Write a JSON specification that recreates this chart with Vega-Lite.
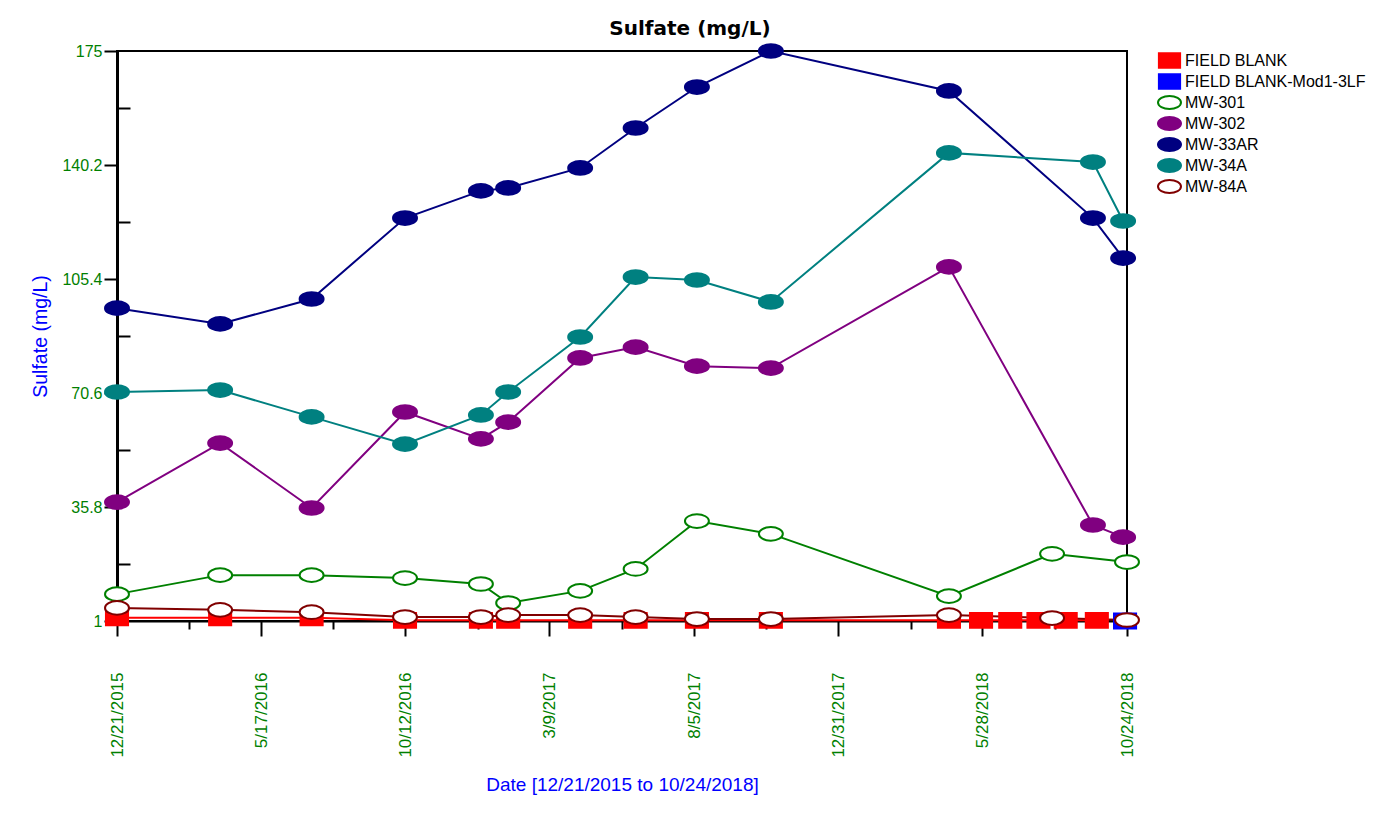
{
  "$schema": "https://vega.github.io/schema/vega-lite/v6.json",
  "autosize": {"type": "none"},
  "padding": {"left": 117, "top": 51, "right": 249, "bottom": 193},
  "width": 1010,
  "height": 570,
  "background": "white",
  "title": {
    "text": "Sulfate (mg/L)",
    "font": "DejaVu Sans",
    "fontSize": 20,
    "fontWeight": "bold",
    "color": "black",
    "anchor": "middle",
    "frame": "group",
    "dx": 68,
    "offset": 1
  },
  "data": {
    "values": [
      {"well": "FIELD BLANK", "date": "2015-12-21T00:00:00", "sulfate": 2.0},
      {"well": "FIELD BLANK", "date": "2016-04-05T00:00:00", "sulfate": 2.0},
      {"well": "FIELD BLANK", "date": "2016-07-08T00:00:00", "sulfate": 2.0},
      {"well": "FIELD BLANK", "date": "2016-10-12T00:00:00", "sulfate": 1.2},
      {"well": "FIELD BLANK", "date": "2016-12-29T00:00:00", "sulfate": 1.2},
      {"well": "FIELD BLANK", "date": "2017-01-26T00:00:00", "sulfate": 1.2},
      {"well": "FIELD BLANK", "date": "2017-04-10T00:00:00", "sulfate": 1.2},
      {"well": "FIELD BLANK", "date": "2017-06-06T00:00:00", "sulfate": 1.2},
      {"well": "FIELD BLANK", "date": "2017-08-08T00:00:00", "sulfate": 1.2},
      {"well": "FIELD BLANK", "date": "2017-10-23T00:00:00", "sulfate": 1.2},
      {"well": "FIELD BLANK", "date": "2018-04-24T00:00:00", "sulfate": 1.2},
      {"well": "FIELD BLANK", "date": "2018-05-27T00:00:00", "sulfate": 1.2},
      {"well": "FIELD BLANK", "date": "2018-06-26T00:00:00", "sulfate": 1.2},
      {"well": "FIELD BLANK", "date": "2018-07-25T00:00:00", "sulfate": 1.2},
      {"well": "FIELD BLANK", "date": "2018-08-22T00:00:00", "sulfate": 1.2},
      {"well": "FIELD BLANK", "date": "2018-09-23T00:00:00", "sulfate": 1.2},
      {"well": "FIELD BLANK-Mod1-3LF", "date": "2018-10-22T00:00:00", "sulfate": 1.0},
      {"well": "MW-301", "date": "2015-12-21T00:00:00", "sulfate": 9.2},
      {"well": "MW-301", "date": "2016-04-05T00:00:00", "sulfate": 15.0},
      {"well": "MW-301", "date": "2016-07-08T00:00:00", "sulfate": 15.0},
      {"well": "MW-301", "date": "2016-10-12T00:00:00", "sulfate": 14.1},
      {"well": "MW-301", "date": "2016-12-29T00:00:00", "sulfate": 12.3},
      {"well": "MW-301", "date": "2017-01-26T00:00:00", "sulfate": 6.5},
      {"well": "MW-301", "date": "2017-04-10T00:00:00", "sulfate": 10.2},
      {"well": "MW-301", "date": "2017-06-06T00:00:00", "sulfate": 16.9},
      {"well": "MW-301", "date": "2017-08-08T00:00:00", "sulfate": 31.5},
      {"well": "MW-301", "date": "2017-10-23T00:00:00", "sulfate": 27.6},
      {"well": "MW-301", "date": "2018-04-24T00:00:00", "sulfate": 8.6},
      {"well": "MW-301", "date": "2018-08-08T00:00:00", "sulfate": 21.5},
      {"well": "MW-301", "date": "2018-10-24T00:00:00", "sulfate": 19.0},
      {"well": "MW-302", "date": "2015-12-21T00:00:00", "sulfate": 37.3},
      {"well": "MW-302", "date": "2016-04-05T00:00:00", "sulfate": 55.3},
      {"well": "MW-302", "date": "2016-07-08T00:00:00", "sulfate": 35.5},
      {"well": "MW-302", "date": "2016-10-12T00:00:00", "sulfate": 64.8},
      {"well": "MW-302", "date": "2016-12-29T00:00:00", "sulfate": 56.6},
      {"well": "MW-302", "date": "2017-01-26T00:00:00", "sulfate": 61.7},
      {"well": "MW-302", "date": "2017-04-10T00:00:00", "sulfate": 81.3},
      {"well": "MW-302", "date": "2017-06-06T00:00:00", "sulfate": 84.6},
      {"well": "MW-302", "date": "2017-08-08T00:00:00", "sulfate": 78.8},
      {"well": "MW-302", "date": "2017-10-23T00:00:00", "sulfate": 78.2},
      {"well": "MW-302", "date": "2018-04-24T00:00:00", "sulfate": 109.1},
      {"well": "MW-302", "date": "2018-09-19T00:00:00", "sulfate": 30.3},
      {"well": "MW-302", "date": "2018-10-20T00:00:00", "sulfate": 26.6},
      {"well": "MW-33AR", "date": "2015-12-21T00:00:00", "sulfate": 96.5},
      {"well": "MW-33AR", "date": "2016-04-05T00:00:00", "sulfate": 91.7},
      {"well": "MW-33AR", "date": "2016-07-08T00:00:00", "sulfate": 99.3},
      {"well": "MW-33AR", "date": "2016-10-12T00:00:00", "sulfate": 124.0},
      {"well": "MW-33AR", "date": "2016-12-29T00:00:00", "sulfate": 132.3},
      {"well": "MW-33AR", "date": "2017-01-26T00:00:00", "sulfate": 133.2},
      {"well": "MW-33AR", "date": "2017-04-10T00:00:00", "sulfate": 139.3},
      {"well": "MW-33AR", "date": "2017-06-06T00:00:00", "sulfate": 151.5},
      {"well": "MW-33AR", "date": "2017-08-08T00:00:00", "sulfate": 164.0},
      {"well": "MW-33AR", "date": "2017-10-23T00:00:00", "sulfate": 175.0},
      {"well": "MW-33AR", "date": "2018-04-24T00:00:00", "sulfate": 162.8},
      {"well": "MW-33AR", "date": "2018-09-19T00:00:00", "sulfate": 124.0},
      {"well": "MW-33AR", "date": "2018-10-20T00:00:00", "sulfate": 111.8},
      {"well": "MW-34A", "date": "2015-12-21T00:00:00", "sulfate": 70.9},
      {"well": "MW-34A", "date": "2016-04-05T00:00:00", "sulfate": 71.5},
      {"well": "MW-34A", "date": "2016-07-08T00:00:00", "sulfate": 63.3},
      {"well": "MW-34A", "date": "2016-10-12T00:00:00", "sulfate": 55.0},
      {"well": "MW-34A", "date": "2016-12-29T00:00:00", "sulfate": 63.9},
      {"well": "MW-34A", "date": "2017-01-26T00:00:00", "sulfate": 70.9},
      {"well": "MW-34A", "date": "2017-04-10T00:00:00", "sulfate": 87.7},
      {"well": "MW-34A", "date": "2017-06-06T00:00:00", "sulfate": 106.0},
      {"well": "MW-34A", "date": "2017-08-08T00:00:00", "sulfate": 105.1},
      {"well": "MW-34A", "date": "2017-10-23T00:00:00", "sulfate": 98.4},
      {"well": "MW-34A", "date": "2018-04-24T00:00:00", "sulfate": 143.9},
      {"well": "MW-34A", "date": "2018-09-19T00:00:00", "sulfate": 141.1},
      {"well": "MW-34A", "date": "2018-10-20T00:00:00", "sulfate": 123.1},
      {"well": "MW-84A", "date": "2015-12-21T00:00:00", "sulfate": 5.0},
      {"well": "MW-84A", "date": "2016-04-05T00:00:00", "sulfate": 4.4},
      {"well": "MW-84A", "date": "2016-07-08T00:00:00", "sulfate": 3.7},
      {"well": "MW-84A", "date": "2016-10-12T00:00:00", "sulfate": 2.2},
      {"well": "MW-84A", "date": "2016-12-29T00:00:00", "sulfate": 2.2},
      {"well": "MW-84A", "date": "2017-01-26T00:00:00", "sulfate": 2.8},
      {"well": "MW-84A", "date": "2017-04-10T00:00:00", "sulfate": 2.8},
      {"well": "MW-84A", "date": "2017-06-06T00:00:00", "sulfate": 2.2},
      {"well": "MW-84A", "date": "2017-08-08T00:00:00", "sulfate": 1.6},
      {"well": "MW-84A", "date": "2017-10-23T00:00:00", "sulfate": 1.6},
      {"well": "MW-84A", "date": "2018-04-24T00:00:00", "sulfate": 2.8},
      {"well": "MW-84A", "date": "2018-08-08T00:00:00", "sulfate": 1.9},
      {"well": "MW-84A", "date": "2018-10-24T00:00:00", "sulfate": 1.3}
    ]
  },
  "encoding": {
    "x": {
      "field": "date",
      "type": "temporal",
      "title": "Date [12/21/2015 to 10/24/2018]",
      "scale": {"domain": [{"year": 2015, "month": 12, "date": 21}, {"year": 2018, "month": 10, "date": 24}]},
      "axis": {
        "values": [
          {"year": 2015, "month": 12, "date": 21},
          {"year": 2016, "month": 3, "date": 4},
          {"year": 2016, "month": 5, "date": 17},
          {"year": 2016, "month": 7, "date": 30},
          {"year": 2016, "month": 10, "date": 12},
          {"year": 2016, "month": 12, "date": 26},
          {"year": 2017, "month": 3, "date": 9},
          {"year": 2017, "month": 5, "date": 23},
          {"year": 2017, "month": 8, "date": 5},
          {"year": 2017, "month": 10, "date": 18},
          {"year": 2017, "month": 12, "date": 31},
          {"year": 2018, "month": 3, "date": 16},
          {"year": 2018, "month": 5, "date": 28},
          {"year": 2018, "month": 8, "date": 11},
          {"year": 2018, "month": 10, "date": 24}
        ],
        "format": "%-m/%-d/%Y",
        "labelExpr": "indexof([4, 30, 26, 23, 18, 16, 11], date(datum.value)) >= 0 ? '' : datum.label",
        "labelAngle": 270,
        "labelAlign": "right",
        "labelBaseline": "middle",
        "labelPadding": 36,
        "labelFont": "Liberation Sans",
        "labelFontSize": 17,
        "labelColor": "#008000",
        "labelFlush": false,
        "labelOverlap": false,
        "tickSize": {"condition": {"test": "indexof([4, 30, 26, 23, 18, 16, 11], date(datum.value)) >= 0", "value": 8}, "value": 15},
        "tickColor": "black",
        "tickWidth": 2,
        "domainColor": "black",
        "domainWidth": 2,
        "grid": false,
        "titleFont": "Liberation Sans",
        "titleFontSize": 19,
        "titleFontWeight": "normal",
        "titleColor": "#0000ff",
        "titlePadding": 18
      }
    },
    "y": {
      "field": "sulfate",
      "type": "quantitative",
      "title": "Sulfate (mg/L)",
      "scale": {"domain": [1, 175], "nice": false, "zero": false},
      "axis": {
        "values": [1, 18.4, 35.8, 53.2, 70.6, 88, 105.4, 122.8, 140.2, 157.6, 175],
        "format": ".1~f",
        "labelExpr": "round((datum.value - 1) * 10) % 348 == 0 ? datum.label : ''",
        "tickSize": {"condition": {"test": "round((datum.value - 1) * 10) % 348 != 0", "value": -13}, "value": 13},
        "labelPadding": 2,
        "labelFont": "Liberation Sans",
        "labelFontSize": 16,
        "labelColor": "#008000",
        "labelOverlap": false,
        "labelFlush": false,
        "tickColor": "black",
        "tickWidth": 2,
        "domainColor": "black",
        "domainWidth": 3,
        "grid": false,
        "titleFont": "Liberation Sans",
        "titleFontSize": 19.5,
        "titleFontWeight": "normal",
        "titleColor": "#0000ff",
        "titlePadding": 11
      }
    }
  },
  "layer": [
    {
      "mark": {"type": "line", "strokeWidth": 2},
      "encoding": {
        "color": {
          "field": "well",
          "type": "nominal",
          "legend": null,
          "scale": {
            "range": ["#ff0000", "#0000ff", "#008000", "#800080", "#000080", "#008080", "#800000"]
          }
        }
      }
    },
    {
      "mark": {"type": "point", "size": 293, "strokeWidth": 2, "opacity": 1, "fillOpacity": 1},
      "encoding": {
        "stroke": {
          "field": "well",
          "type": "nominal",
          "title": null,
          "scale": {
            "domain": ["FIELD BLANK", "FIELD BLANK-Mod1-3LF", "MW-301", "MW-302", "MW-33AR", "MW-34A", "MW-84A"],
            "range": ["#ff0000", "#0000ff", "#008000", "#800080", "#000080", "#008080", "#800000"]
          }
        },
        "fill": {
          "field": "well",
          "type": "nominal",
          "title": null,
          "scale": {
            "domain": ["FIELD BLANK", "FIELD BLANK-Mod1-3LF", "MW-301", "MW-302", "MW-33AR", "MW-34A", "MW-84A"],
            "range": ["#ff0000", "#0000ff", "#ffffff", "#800080", "#000080", "#008080", "#ffffff"]
          }
        },
        "shape": {
          "field": "well",
          "type": "nominal",
          "title": null,
          "scale": {
            "domain": ["FIELD BLANK", "FIELD BLANK-Mod1-3LF", "MW-301", "MW-302", "MW-33AR", "MW-34A", "MW-84A"],
            "range": [
              "M-1.29,-0.87H1.29V0.87H-1.29Z",
              "M-1.29,-0.87H1.29V0.87H-1.29Z",
              "M-1.4,0A1.4,0.8,0,1,1,1.4,0A1.4,0.8,0,1,1,-1.4,0Z",
              "M-1.4,0A1.4,0.8,0,1,1,1.4,0A1.4,0.8,0,1,1,-1.4,0Z",
              "M-1.4,0A1.4,0.8,0,1,1,1.4,0A1.4,0.8,0,1,1,-1.4,0Z",
              "M-1.4,0A1.4,0.8,0,1,1,1.4,0A1.4,0.8,0,1,1,-1.4,0Z",
              "M-1.4,0A1.4,0.8,0,1,1,1.4,0A1.4,0.8,0,1,1,-1.4,0Z"
            ]
          }
        }
      }
    }
  ],
  "config": {
    "view": {"stroke": "black", "strokeWidth": 2},
    "font": "Liberation Sans",
    "legend": {
      "orient": "right",
      "offset": 29,
      "padding": 0,
      "labelFont": "Liberation Sans",
      "labelFontSize": 16,
      "labelColor": "black",
      "labelLimit": 300,
      "labelOffset": 6,
      "symbolSize": 270,
      "symbolStrokeWidth": 2,
      "rowPadding": -2.3
    }
  }
}
